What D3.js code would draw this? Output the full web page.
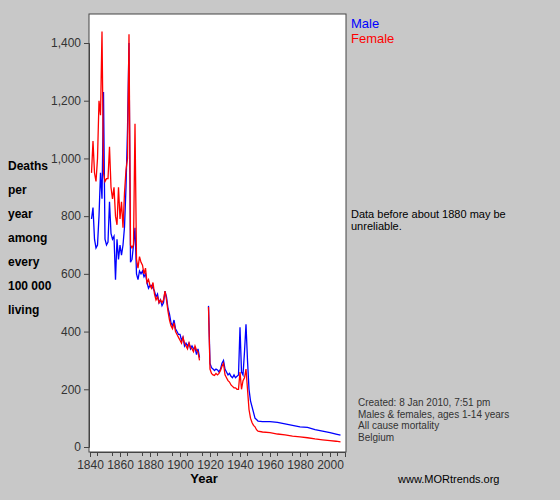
<html>
<head>
<script src="https://cdnjs.cloudflare.com/ajax/libs/d3/7.8.5/d3.min.js"></script>
<style>
  body { margin: 0; background: #c8c8c8; }
  text { font-family: Arial, "Liberation Sans", sans-serif; }
</style>
</head>
<body>
<svg id="chart" width="560" height="500"></svg>
<script>
// years of observation, null marks the WWI gap
var years = [1841,1842,1843,1844,1845,1846,1847,1848,1849,1850,1851,1852,1853,1854,1855,1856,1857,1858,1859,1860,
  1861,1862,1863,1864,1865,1866,1867,1868,1869,1870,1871,1872,1873,1874,1875,1876,1877,1878,1879,1880,
  1881,1882,1883,1884,1885,1886,1887,1888,1889,1890,1891,1892,1893,1894,1895,1896,1897,1898,1899,1900,
  1901,1902,1903,1904,1905,1906,1907,1908,1909,1910,1911,1912,1913,1916,
  1919,1920,1921,1922,1923,1924,1925,1926,1927,1928,1929,1930,1931,1932,1933,1934,1935,1936,1937,1938,1939,
  1940,1941,1942,1943,1944,1945,1946,1947,1948,1949,1950,1951,1952,1955,1960,1965,1970,1975,1980,1985,1990,1995,2000,2004,2007];
var male = [790,830,720,690,700,800,950,860,1230,720,700,710,850,740,720,730,580,720,650,700,
  665,700,762,900,1100,1400,640,650,700,760,600,580,610,600,610,590,600,570,550,560,
  560,550,540,520,530,500,510,490,500,540,520,480,460,430,420,440,410,400,390,390,
  370,380,350,360,350,360,340,350,340,345,320,340,310,null,
  489,290,275,270,265,270,267,260,270,290,300,270,260,250,255,245,240,250,240,245,250,
  415,260,250,330,425,300,200,160,140,120,100,95,90,88,88,85,80,75,70,68,60,55,50,45,41];
var female = [950,1060,950,920,1000,1200,1150,1440,950,920,930,930,1040,900,860,900,800,770,900,790,
  850,760,880,960,1000,1430,700,690,700,1120,650,620,660,640,630,600,620,570,580,560,
  550,570,530,510,520,500,510,500,510,540,510,470,440,420,410,430,400,390,380,370,
  360,380,360,350,340,360,345,340,330,350,335,330,300,null,
  485,270,255,250,248,255,250,255,265,280,290,250,240,230,225,215,210,205,205,200,200,
  260,200,230,240,270,200,130,100,85,75,70,60,55,52,50,45,42,38,35,32,28,25,22,20,18];
var xTicks = [1840,1860,1880,1900,1920,1940,1960,1980,2000];
var yTicks = [0,200,400,600,800,1000,1200,1400];
var yLabel = ["Deaths","per","year","among","every","100 000","living"];
var notes = ["Created: 8 Jan 2010, 7:51 pm","Males & females, ages 1-14 years","All cause mortality","Belgium"];

var svg = d3.select("#chart");
var x = d3.scaleLinear().domain([1840, 2010]).range([90, 345]);
var y = d3.scaleLinear().domain([0, 1400]).range([447, 43]);

svg.append("rect").attr("x", 89).attr("y", 14).attr("width", 257).attr("height", 438)
  .attr("fill", "white").attr("stroke", "#444");

var xa = svg.append("g").attr("transform", "translate(0,452)")
  .call(d3.axisBottom(x).tickValues(xTicks).tickFormat(d3.format("d")).tickSize(5));
xa.selectAll(".tick")
  .data(d3.range(1840, 2011, 5), function(d){ return d; }).enter(); // minor ticks below
svg.append("g").selectAll("line").data(d3.range(1845, 2010, 10)).join("line")
  .attr("x1", d => x(d)).attr("x2", d => x(d)).attr("y1", 452).attr("y2", 456).attr("stroke", "#444");
var ya = svg.append("g").attr("transform", "translate(89,0)")
  .call(d3.axisLeft(y).tickValues(yTicks).tickSize(5));
[xa, ya].forEach(function(a){
  a.select(".domain").attr("stroke", "#444");
  a.selectAll("line").attr("stroke", "#444");
  a.selectAll("text").attr("fill", "#333").style("font-size", "12px");
});

var line = d3.line().defined(d => d[1] != null).x(d => x(d[0])).y(d => y(d[1]));
svg.append("path").datum(years.map((yr, i) => [yr, male[i]]))
  .attr("d", line).attr("fill", "none").attr("stroke", "blue").attr("stroke-width", 1.3);
svg.append("path").datum(years.map((yr, i) => [yr, female[i]]))
  .attr("d", line).attr("fill", "none").attr("stroke", "red").attr("stroke-width", 1.3);

svg.append("text").attr("x", 204).attr("y", 483).attr("text-anchor", "middle")
  .style("font-size", "13px").style("font-weight", "bold").text("Year");
svg.selectAll(".ylab").data(yLabel).join("text").attr("x", 8).attr("y", (d, i) => 170 + i * 24)
  .style("font-size", "12px").style("font-weight", "bold").text(d => d);

svg.append("text").attr("x", 351).attr("y", 28).attr("fill", "blue").style("font-size", "13px").text("Male");
svg.append("text").attr("x", 351).attr("y", 43).attr("fill", "red").style("font-size", "13px").text("Female");
svg.append("text").attr("x", 351).attr("y", 218).style("font-size", "11px").text("Data before about 1880 may be");
svg.append("text").attr("x", 351).attr("y", 230).style("font-size", "11px").text("unreliable.");
svg.selectAll(".note").data(notes).join("text").attr("x", 358).attr("y", (d, i) => 406 + i * 11.5)
  .attr("fill", "#333").style("font-size", "10px").text(d => d);
svg.append("text").attr("x", 398).attr("y", 483).style("font-size", "11px").text("www.MORtrends.org");
</script>
</body>
</html>
